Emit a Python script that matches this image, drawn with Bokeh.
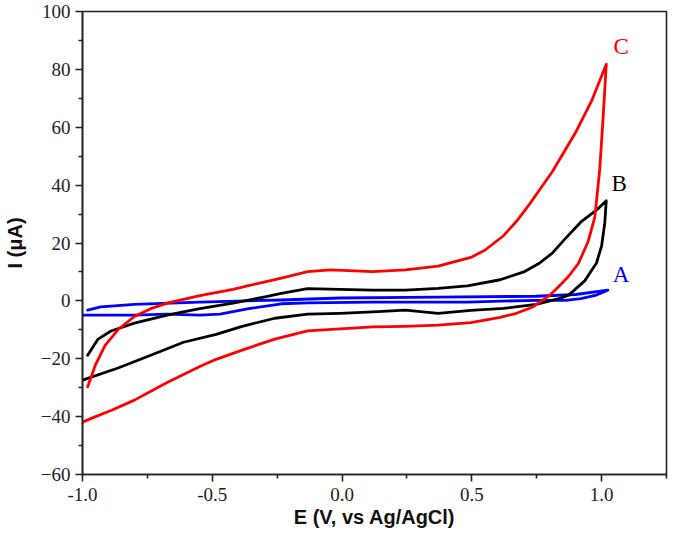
from bokeh.plotting import figure
from bokeh.models import FixedTicker, Range1d
from bokeh.core.properties import value
from bokeh.embed import file_html
from bokeh.resources import INLINE

# ---- data (E in V vs Ag/AgCl, I in uA) ----
c_fwd_e = [-0.98, -0.95, -0.913, -0.863, -0.80, -0.737, -0.674, -0.548, -0.42, -0.297, -0.234,
           -0.133, -0.045, 0.118, 0.244, 0.37, 0.496, 0.55, 0.622, 0.672, 0.722, 0.81, 0.898, 0.961, 1.018]
c_fwd_i = [-29.7, -22.1, -15.4, -9.9, -5.4, -2.7, -0.8, 1.8, 4.0, 6.6, 7.9,
           10.1, 10.7, 10.1, 10.7, 12.0, 15.0, 17.5, 22.5, 27.5, 33.4, 44.6, 57.9, 69.0, 81.8]
c_rev_e = [1.018, 1.005, 0.993, 0.974, 0.948, 0.911, 0.873, 0.835, 0.798, 0.735, 0.672, 0.609,
           0.496, 0.37, 0.244, 0.118, -0.008, -0.133, -0.259, -0.385, -0.485, -0.548, -0.674,
           -0.80, -0.89, -0.95, -1.0]
c_rev_i = [81.8, 62.3, 45.7, 29.0, 20.5, 13.0, 8.5, 5.0, 1.8, -2.1, -4.3, -5.7,
           -7.5, -8.4, -8.8, -9.0, -9.7, -10.4, -13.2, -17.0, -20.2, -22.7, -28.2,
           -34.3, -37.9, -40.0, -41.9]

b_fwd_e = [-0.98, -0.94, -0.89, -0.80, -0.674, -0.548, -0.42, -0.297, -0.234, -0.133, -0.008,
           0.118, 0.244, 0.37, 0.483, 0.609, 0.70, 0.76, 0.81, 0.86, 0.923, 0.986, 1.018]
b_fwd_i = [-18.8, -13.2, -10.4, -7.7, -4.9, -2.7, -0.8, 1.4, 2.6, 4.2, 4.0,
           3.7, 3.7, 4.3, 5.2, 7.3, 10.0, 13.0, 16.5, 21.5, 27.5, 31.8, 34.6]
b_rev_e = [1.018, 1.012, 1.0, 0.98, 0.961, 0.936, 0.911, 0.873, 0.836, 0.747, 0.622, 0.496,
           0.37, 0.244, 0.118, -0.008, -0.133, -0.259, -0.385, -0.485, -0.611, -0.737,
           -0.863, -1.0]
b_rev_i = [34.6, 26.8, 19.0, 13.0, 10.5, 7.0, 5.0, 2.0, 0.8, -1.2, -2.6, -3.3,
           -4.3, -3.2, -3.8, -4.3, -4.6, -6.0, -8.8, -11.6, -14.3, -18.8,
           -23.2, -27.4]

a_fwd_e = [-0.98, -0.93, -0.80, -0.548, -0.234, -0.008, 0.37, 0.747, 0.90, 1.024]
a_fwd_i = [-3.2, -2.1, -1.2, -0.4, 0.3, 1.0, 1.3, 1.6, 2.2, 3.7]
a_rev_e = [1.024, 0.98, 0.92, 0.861, 0.747, 0.483, 0.118, -0.133, -0.234, -0.36, -0.47,
           -0.548, -0.674, -0.80, -1.0]
a_rev_i = [3.7, 2.0, 0.8, 0.2, 0.2, -0.4, -0.4, -0.7, -1.0, -2.7, -4.6,
           -4.9, -4.6, -4.9, -4.9]

curve_names = ["A", "B", "C"]
label_e = [1.075, 1.068, 1.075]
label_i = [9.0, 40.7, 88.0]

x_ticks = [-1.0, -0.5, 0.0, 0.5, 1.0]
x_tick_labels = ["-1.0", "-0.5", "0.0", "0.5", "1.0"]
x_minor = [-0.75, -0.25, 0.25, 0.75, 1.25]
y_ticks = [-60, -40, -20, 0, 20, 40, 60, 80, 100]
y_minor = [-50, -30, -10, 10, 30, 50, 70, 90]

colors = {"A": "#0000ff", "B": "#000000", "C": "#ff0000"}

p = figure(width=669, height=534, output_backend="svg", toolbar_location=None,
           x_range=Range1d(-1.0, 1.25), y_range=Range1d(-60, 100))
p.min_border = 0
p.min_border_left = 79
p.min_border_right = 3
p.min_border_top = 11
p.min_border_bottom = 60
p.grid.visible = False
p.outline_line_color = "#222222"
p.outline_line_width = 1.6
p.background_fill_color = "white"
p.border_fill_color = "white"

series = [("A", a_fwd_e, a_fwd_i, a_rev_e, a_rev_i),
          ("B", b_fwd_e, b_fwd_i, b_rev_e, b_rev_i),
          ("C", c_fwd_e, c_fwd_i, c_rev_e, c_rev_i)]
for name, fe, fi, re_, ri in series:
    p.line(fe + re_[1:], fi + ri[1:], line_color=colors[name], line_width=2.8,
           line_join="round", line_cap="round")

p.text(x=label_e, y=label_i, text=curve_names,
       text_color=[colors[n] for n in curve_names],
       text_font=value("Liberation Serif"), text_font_size="23px",
       text_align="center", text_baseline="middle")

p.xaxis.ticker = FixedTicker(ticks=x_ticks, minor_ticks=x_minor)
p.xaxis.major_label_overrides = {t: l for t, l in zip(x_ticks, x_tick_labels)}
p.yaxis.ticker = FixedTicker(ticks=y_ticks, minor_ticks=y_minor)

for ax in (p.xaxis[0], p.yaxis[0]):
    ax.axis_line_color = "#222222"
    ax.axis_line_width = 1.6
    ax.major_tick_line_color = "#222222"
    ax.major_tick_line_width = 1.6
    ax.minor_tick_line_color = "#222222"
    ax.minor_tick_line_width = 1.6
    ax.major_tick_in = 0
    ax.major_tick_out = 7
    ax.minor_tick_in = 0
    ax.minor_tick_out = 4
    ax.major_label_text_font = "Liberation Serif"
    ax.major_label_text_font_size = "19px"
    ax.major_label_text_color = "#222222"
    ax.axis_label_text_font = "Liberation Sans"
    ax.axis_label_text_font_style = "bold"
    ax.axis_label_text_font_size = "20px"
    ax.axis_label_text_color = "#111111"

p.xaxis.axis_label = "E (V, vs Ag/AgCl)"
p.yaxis.axis_label = "I (μA)"
p.xaxis.major_label_standoff = 6
p.xaxis.axis_label_standoff = 2
p.yaxis.major_label_standoff = 5
p.yaxis.axis_label_standoff = 12

open("out.html", "w").write(file_html(p, INLINE))
